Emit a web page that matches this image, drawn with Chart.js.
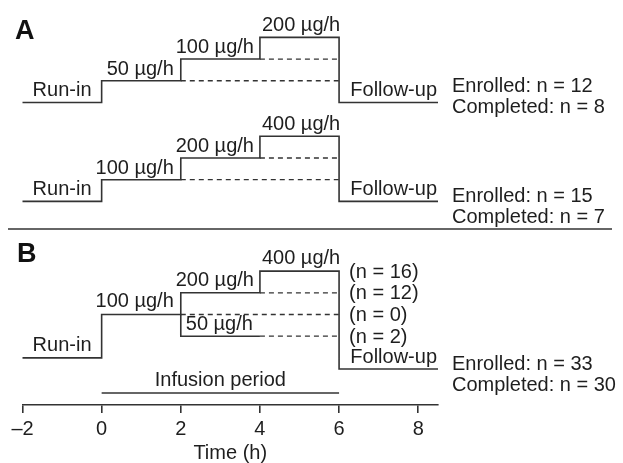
<!DOCTYPE html>
<html lang="en">

<head>
    <meta charset="UTF-8">
    <title>Study design</title>
    <style>
        body {
            margin: 0;
            background: #fff;
        }

        #wrap {
            width: 623px;
            height: 463px;
        }
    </style>
</head>

<body>
    <div id="wrap">
        <canvas id="myChart"></canvas>
    </div>

    <script src="https://cdn.jsdelivr.net/npm/chart.js"></script>

    <script>
        // data
        const time_ticks = [-2, 0, 2, 4, 6, 8];
        const step_times = [-2, 0, 2, 4, 6, 8.5]; // run-in, 3 infusion steps, follow-up end
        const a1_doses = [50, 100, 200];
        const a2_doses = [100, 200, 400];
        const b_doses = [100, 200, 400];
        const b_down_dose = 50; // alternative step down at 2 h in B
        const a1_ladder = [0, 50, 100, 200];
        const a2_ladder = [0, 100, 200, 400];
        const b_ladder = [0, 50, 100, 200, 400];
        const b_n_labels = { 400: 16, 200: 12, 100: 0, 50: 2 };
        const enrolled = [12, 15, 33];
        const completed = [8, 7, 30];

        // layout (vertical offsets of each diagram, in level units)
        const base_a1 = 13.94, base_a2 = 9.38, base_b = 2.17;
        const b_follow_drop = -0.51;
        const infusion_y = 0.55;
        const y_max = 18.66;

        const ink = '#333';
        const txt = '#1e1e1e';
        const font = '20px "Liberation Sans", Arial, sans-serif';

        function lvl(ladder, dose) { return ladder.indexOf(dose); }

        // solid step path for an arm
        function stepPath(doses, ladder, base, followDrop) {
            let pts = [];
            pts.push({ x: step_times[0], y: base });
            pts.push({ x: step_times[1], y: base });
            for (let i = 0; i < doses.length; i++) {
                let y = base + lvl(ladder, doses[i]);
                pts.push({ x: step_times[i + 1], y: y });
                pts.push({ x: step_times[i + 2], y: y });
            }
            pts.push({ x: step_times[4], y: base + followDrop });
            pts.push({ x: step_times[5], y: base + followDrop });
            return pts;
        }

        // dashed continuations to end of infusion
        function dashPath(doses, ladder, base) {
            let pts = [];
            for (let i = 0; i < doses.length - 1; i++) {
                let y = base + lvl(ladder, doses[i]);
                pts.push({ x: step_times[i + 2], y: y });
                pts.push({ x: step_times[4], y: y });
                pts.push({ x: step_times[4], y: null });
            }
            return pts;
        }

        let b_down_y = base_b + lvl(b_ladder, b_down_dose);
        let b_branch = [
            { x: step_times[2], y: base_b + lvl(b_ladder, b_doses[0]) },
            { x: step_times[2], y: b_down_y },
            { x: step_times[3], y: b_down_y }
        ];
        let b_dash = dashPath(b_doses, b_ladder, base_b).concat([
            { x: step_times[3], y: b_down_y }, { x: step_times[4], y: b_down_y }
        ]);

        function solid(data) {
            return { data: data, borderColor: ink, borderWidth: 1.6, pointRadius: 0, clip: false, spanGaps: false };
        }
        function dashed(data) {
            let d = solid(data);
            d.borderDash = [5, 4];
            d.borderWidth = 1.3;
            return d;
        }

        const labelsPlugin = {
            id: 'labels',
            afterDatasetsDraw(chart) {
                const c = chart.ctx;
                const sx = chart.scales.x, sy = chart.scales.y;
                const px = v => sx.getPixelForValue(v);
                const py = v => sy.getPixelForValue(v);
                c.save();
                c.fillStyle = txt;
                c.font = font;
                c.textBaseline = 'alphabetic';

                function t(s, x, y, align) { c.textAlign = align || 'left'; c.fillText(s, x, y); }

                const arms = [
                    { doses: a1_doses, ladder: a1_ladder, base: base_a1, drop: 0, gap: 6, edy: -10.5 },
                    { doses: a2_doses, ladder: a2_ladder, base: base_a2, drop: 0, gap: 6, edy: 0.5 },
                    { doses: b_doses, ladder: b_ladder, base: base_b, drop: b_follow_drop, gap: 7, edy: 1 }
                ];
                arms.forEach((a, k) => {
                    let yb = py(a.base);
                    t('Run-in', px(-1), yb - a.gap, 'center');
                    let y0 = py(a.base + lvl(a.ladder, a.doses[0])) - a.gap;
                    let y1 = py(a.base + lvl(a.ladder, a.doses[1])) - a.gap;
                    let y2 = py(a.base + lvl(a.ladder, a.doses[2])) - a.gap;
                    t(a.doses[0] + ' µg/h', px(step_times[2]) - 7, y0, 'right');
                    t(a.doses[1] + ' µg/h', px(step_times[3]) - 6, y1, 'right');
                    t(a.doses[2] + ' µg/h', px(step_times[3]) + 2, y2, 'left');
                    let yf = py(a.base + a.drop);
                    t('Follow-up', px(step_times[5]) - 1, yf - 6, 'right');
                    t('Enrolled: n = ' + enrolled[k], px(step_times[5]) + 14, yf + a.edy, 'left');
                    t('Completed: n = ' + completed[k], px(step_times[5]) + 14, yf + a.edy + 21, 'left');
                });

                // B extras
                t(b_down_dose + ' µg/h', px(step_times[2]) + 5, py(b_down_y) - 6, 'left');
                c.textBaseline = 'middle';
                Object.keys(b_n_labels).forEach(d => {
                    t('(n = ' + b_n_labels[d] + ')', px(step_times[4]) + 10, py(base_b + lvl(b_ladder, Number(d))) + 1, 'left');
                });

                // infusion period
                c.textBaseline = 'alphabetic';
                t('Infusion period', px(3), py(infusion_y) - 7, 'center');
                c.strokeStyle = ink;
                c.lineWidth = 1.6;
                c.beginPath();
                c.moveTo(px(0), py(infusion_y));
                c.lineTo(px(6), py(infusion_y));
                c.stroke();

                // panel divider
                c.beginPath();
                c.moveTo(8, py(8.11));
                c.lineTo(chart.width - 11, py(8.11));
                c.stroke();

                // panel letters
                c.font = 'bold 27px "Liberation Sans", Arial, sans-serif';
                c.fillStyle = '#111';
                c.textBaseline = 'middle';
                t('A', 15, py(17.19), 'left');
                t('B', 17, py(6.91), 'left');
                c.restore();
            }
        };

        const ctx = document.getElementById('myChart');

        let config = {
            type: 'line',
            data: {
                datasets: [
                    solid(stepPath(a1_doses, a1_ladder, base_a1, 0)),
                    dashed(dashPath(a1_doses, a1_ladder, base_a1)),
                    solid(stepPath(a2_doses, a2_ladder, base_a2, 0)),
                    dashed(dashPath(a2_doses, a2_ladder, base_a2)),
                    solid(stepPath(b_doses, b_ladder, base_b, b_follow_drop)),
                    solid(b_branch),
                    dashed(b_dash)
                ]
            },
            options: {
                responsive: true,
                maintainAspectRatio: false,
                animation: false,
                layout: { padding: { left: 22.5, right: 185, top: 0, bottom: 0 } },
                plugins: { legend: { display: false }, tooltip: { enabled: false } },
                scales: {
                    x: {
                        type: 'linear',
                        min: -2,
                        max: 8.5,
                        afterFit(scale) { scale.height = 58; },
                        afterBuildTicks(scale) { scale.ticks = time_ticks.map(v => ({ value: v })); },
                        grid: { drawOnChartArea: false, drawTicks: true, tickLength: 8, color: ink, lineWidth: 1.6 },
                        border: { display: true, color: ink, width: 1.6 },
                        ticks: {
                            padding: 4,
                            color: txt,
                            font: { family: '"Liberation Sans", Arial, sans-serif', size: 20 },
                            callback: v => v < 0 ? '–' + Math.abs(v) : '' + v
                        },
                        title: {
                            display: true,
                            text: 'Time (h)',
                            color: txt,
                            padding: { top: 0, bottom: 0 },
                            font: { family: '"Liberation Sans", Arial, sans-serif', size: 20, lineHeight: 1 }
                        }
                    },
                    y: { display: false, min: 0, max: y_max }
                }
            },
            plugins: [labelsPlugin]
        };

        let myChart = new Chart(ctx, config);
    </script>
</body>

</html>
